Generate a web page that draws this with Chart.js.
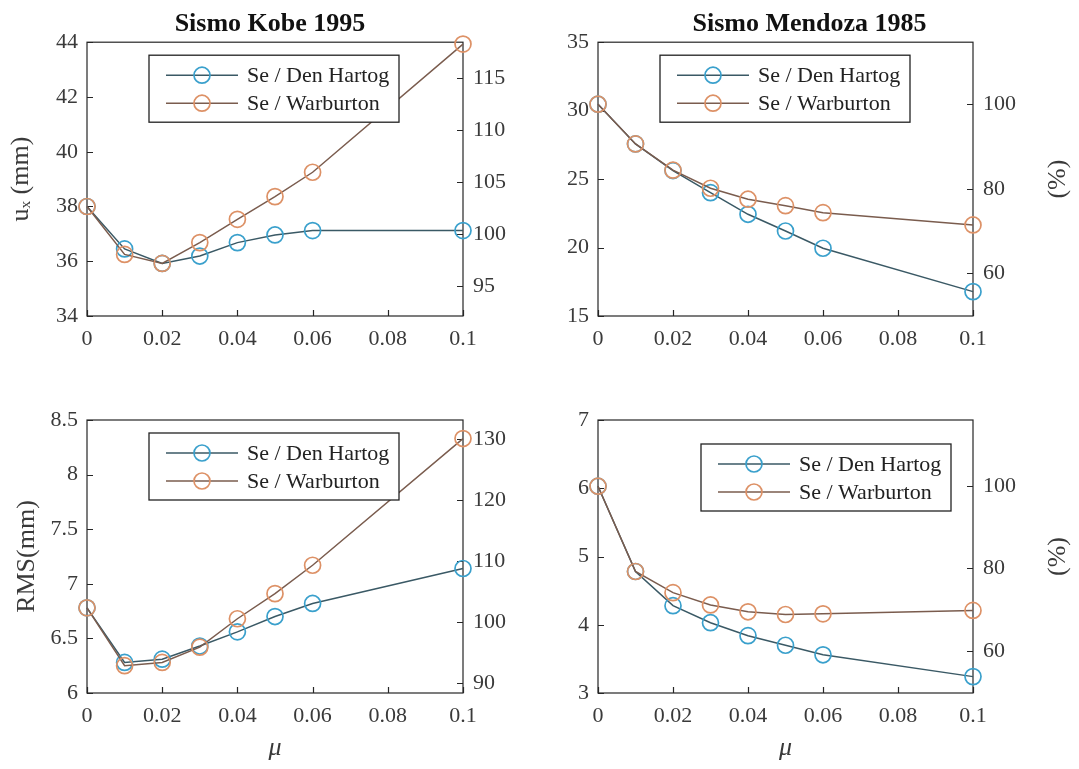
<!DOCTYPE html>
<html>
<head>
<meta charset="utf-8">
<script src="https://cdn.jsdelivr.net/npm/chart.js@4.4.1/dist/chart.umd.min.js"></script>
<style>
  body { margin: 0; background: #fff; }
  .cell { position: absolute; }
</style>
</head>
<body>
<div class="cell" style="left:0;top:0"><canvas id="kobeUx" width="540" height="380"></canvas></div>
<div class="cell" style="left:540px;top:0"><canvas id="mendUx" width="539" height="380"></canvas></div>
<div class="cell" style="left:0;top:380px"><canvas id="kobeRms" width="540" height="389"></canvas></div>
<div class="cell" style="left:540px;top:380px"><canvas id="mendRms" width="539" height="389"></canvas></div>
<script>
// mu values (x axis)
const mu = [0, 0.01, 0.02, 0.03, 0.04, 0.05, 0.06, 0.1];
const xTicks = [0, 0.02, 0.04, 0.06, 0.08, 0.1];

// Kobe 1995 - u_x (mm)
const kobeUxDen = [38.0, 36.45, 35.92, 36.19, 36.68, 36.96, 37.12, 37.12];
const kobeUxWar = [38.0, 36.25, 35.92, 36.68, 37.53, 38.36, 39.25, 43.93];
// Mendoza 1985 - u_x (mm)
const mendUxDen = [30.47, 27.57, 25.62, 24.01, 22.43, 21.21, 19.95, 16.78];
const mendUxWar = [30.47, 27.57, 25.65, 24.33, 23.53, 23.06, 22.55, 21.65];
// Kobe 1995 - RMS (mm)
const kobeRmsDen = [6.78, 6.28, 6.31, 6.43, 6.56, 6.70, 6.82, 7.14];
const kobeRmsWar = [6.78, 6.25, 6.28, 6.42, 6.68, 6.91, 7.17, 8.33];
// Mendoza 1985 - RMS (mm)
const mendRmsDen = [6.03, 4.78, 4.28, 4.03, 3.84, 3.70, 3.56, 3.24];
const mendRmsWar = [6.03, 4.78, 4.47, 4.29, 4.19, 4.15, 4.16, 4.21];

const labels = ['Se / Den Hartog', 'Se / Warburton'];

const SERIF = "'Liberation Serif', 'DejaVu Serif', serif";
const TICK = '#3a3a3a';
const fmt = v => String(+v.toFixed(2));

// frame, inward ticks, boxed legend and right-hand title (MATLAB look)
const matlabLook = {
  id: 'matlabLook',
  beforeDatasetsDraw(chart) {
    const {ctx, chartArea: a, scales} = chart;
    ctx.save();
    ctx.strokeStyle = '#262626';
    ctx.lineWidth = 1.2;
    ctx.strokeRect(a.left, a.top, a.right - a.left, a.bottom - a.top);
    ctx.beginPath();
    scales.x.ticks.forEach(t => {
      const p = Math.round(scales.x.getPixelForValue(t.value)) + 0.5;
      ctx.moveTo(p, a.bottom); ctx.lineTo(p, a.bottom - 6);
    });
    scales.y.ticks.forEach(t => {
      const p = Math.round(scales.y.getPixelForValue(t.value)) + 0.5;
      ctx.moveTo(a.left, p); ctx.lineTo(a.left + 6, p);
    });
    scales.y2.ticks.forEach(t => {
      const p = Math.round(scales.y2.getPixelForValue(t.value)) + 0.5;
      ctx.moveTo(a.right, p); ctx.lineTo(a.right - 6, p);
    });
    ctx.stroke();
    ctx.restore();
  },
  afterDraw(chart, args, opts) {
    const {ctx, chartArea: a} = chart;
    ctx.save();
    if (opts.rightTitle) {
      ctx.translate(chart.width - 21, (a.top + a.bottom) / 2);
      ctx.rotate(-Math.PI / 2);
      ctx.font = '26px ' + SERIF;
      ctx.fillStyle = TICK;
      ctx.textAlign = 'center';
      ctx.textBaseline = 'middle';
      ctx.fillText(opts.rightTitle, 0, 0);
      ctx.setTransform(1, 0, 0, 1, 0, 0);
    }
    // legend box
    const bx = a.left + opts.dx, by = a.top + opts.dy;
    ctx.fillStyle = '#fff';
    ctx.fillRect(bx, by, 250, 67);
    ctx.strokeStyle = '#222';
    ctx.lineWidth = 1.3;
    ctx.strokeRect(bx, by, 250, 67);
    ctx.font = '22px ' + SERIF;
    ctx.textAlign = 'left';
    ctx.textBaseline = 'middle';
    chart.data.datasets.forEach((ds, i) => {
      const ry = by + 20 + i * 28;
      ctx.strokeStyle = ds.borderColor;
      ctx.lineWidth = ds.borderWidth;
      ctx.beginPath();
      ctx.moveTo(bx + 17, ry); ctx.lineTo(bx + 89, ry);
      ctx.stroke();
      ctx.strokeStyle = ds.pointBorderColor;
      ctx.lineWidth = ds.pointBorderWidth;
      ctx.beginPath();
      ctx.arc(bx + 53, ry, ds.pointRadius, 0, Math.PI * 2);
      ctx.stroke();
      ctx.fillStyle = '#222';
      ctx.fillText(ds.label, bx + 98, ry + 1);
    });
    ctx.restore();
  }
};

function series(label, ys, line, marker, order) {
  return {
    label: label,
    data: mu.map((m, i) => ({x: m, y: ys[i]})),
    borderColor: line,
    borderWidth: 1.5,
    pointBorderColor: marker,
    pointBackgroundColor: 'rgba(255,255,255,0)',
    pointBorderWidth: 1.7,
    pointRadius: 8,
    tension: 0,
    clip: false,
    order: order
  };
}

function makeChart(id, cfg) {
  const ctx = document.getElementById(id).getContext('2d');
  return new Chart(ctx, {
    type: 'line',
    data: {
      datasets: [
        series(labels[0], cfg.den, '#3a5965', '#3aa0cc', 2),
        series(labels[1], cfg.war, '#7a5c4e', '#dd9166', 1)
      ]
    },
    options: {
      responsive: false,
      animation: false,
      events: [],
      layout: { padding: { top: cfg.title ? 0 : 40, left: 0, right: 0, bottom: 0 } },
      plugins: {
        legend: { display: false },
        tooltip: { enabled: false },
        title: {
          display: !!cfg.title,
          text: cfg.title,
          color: '#111',
          font: { family: SERIF, size: 26, weight: 'bold' },
          padding: { top: 9, bottom: 2 }
        },
        matlabLook: { dx: cfg.legend[0], dy: cfg.legend[1], rightTitle: cfg.rightTitle }
      },
      scales: {
        x: {
          type: 'linear',
          min: 0, max: 0.1,
          afterBuildTicks: s => { s.ticks = xTicks.map(v => ({value: v})); },
          afterFit: s => { s.height = cfg.xHeight; },
          grid: { display: false, drawTicks: false },
          border: { display: false },
          ticks: {
            color: TICK, padding: 10,
            font: { family: SERIF, size: 22 },
            callback: fmt
          },
          title: {
            display: !!cfg.xTitle,
            text: cfg.xTitle,
            color: TICK,
            font: { family: SERIF, size: 26, style: 'italic' },
            padding: { top: 0, bottom: 5 }
          }
        },
        y: {
          position: 'left',
          min: cfg.yMin, max: cfg.yMax,
          afterFit: s => { s.width = cfg.leftWidth; },
          grid: { display: false, drawTicks: false },
          border: { display: false },
          ticks: {
            stepSize: cfg.yStep, color: TICK, padding: 9,
            font: { family: SERIF, size: 22 },
            callback: fmt
          },
          title: {
            display: !!cfg.yTitle,
            text: cfg.yTitle,
            color: TICK,
            font: { family: SERIF, size: 26 },
            padding: { top: cfg.yTitlePad, bottom: 0 }
          }
        },
        y2: {
          axis: 'y',
          position: 'right',
          min: cfg.rMin, max: cfg.rMax,
          afterFit: s => { s.width = cfg.rightWidth; },
          grid: { display: false, drawTicks: false },
          border: { display: false },
          ticks: {
            stepSize: cfg.rStep, includeBounds: false, color: TICK, padding: 10,
            font: { family: SERIF, size: 22 },
            callback: fmt
          }
        }
      }
    },
    plugins: [matlabLook]
  });
}

makeChart('kobeUx', {
  title: 'Sismo Kobe 1995', den: kobeUxDen, war: kobeUxWar,
  yMin: 34, yMax: 44, yStep: 2, rMin: 92.1, rMax: 118.5, rStep: 5,
  yTitle: 'uₓ (mm)', yTitlePad: 6, leftWidth: 87, rightWidth: 77, xHeight: 64,
  legend: [62, 13]
});
makeChart('mendUx', {
  title: 'Sismo Mendoza 1985', den: mendUxDen, war: mendUxWar,
  yMin: 15, yMax: 35, yStep: 5, rMin: 49.9, rMax: 114.7, rStep: 20,
  rightTitle: '(%)', leftWidth: 58, rightWidth: 106, xHeight: 64,
  legend: [62, 13]
});
makeChart('kobeRms', {
  den: kobeRmsDen, war: kobeRmsWar,
  yMin: 6, yMax: 8.5, yStep: 0.5, rMin: 88.4, rMax: 133.1, rStep: 10,
  yTitle: 'RMS(mm)', yTitlePad: 12, xTitle: 'μ', leftWidth: 87, rightWidth: 77, xHeight: 76,
  legend: [62, 13]
});
makeChart('mendRms', {
  den: mendRmsDen, war: mendRmsWar,
  yMin: 3, yMax: 7, yStep: 1, rMin: 49.9, rMax: 115.9, rStep: 20,
  rightTitle: '(%)', xTitle: 'μ', leftWidth: 58, rightWidth: 106, xHeight: 76,
  legend: [103, 24]
});
</script>
</body>
</html>
